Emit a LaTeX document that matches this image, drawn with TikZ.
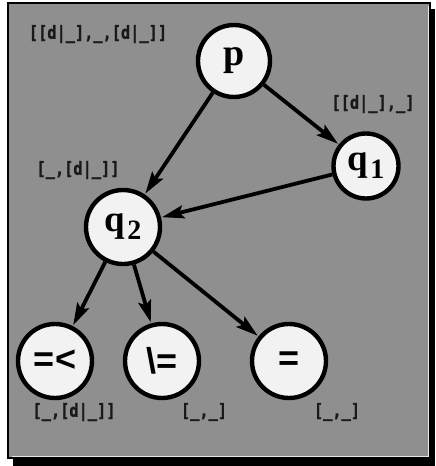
\documentclass[tikz,border=0pt]{standalone}
\usepackage{fontspec}
\setmainfont{Liberation Serif}
\newfontfamily\labelfont{DejaVu Sans Mono}[FakeStretch=0.85,FakeBold=1.2]
\newfontfamily\opfont{Liberation Sans}
\usetikzlibrary{arrows.meta}
\definecolor{panel}{gray}{0.56}
\definecolor{disc}{gray}{0.95}
\newcommand{\statename}[2]{\textbf{\fontsize{37}{37}\selectfont #1\hspace{2pt}\raisebox{-8pt}{\fontsize{28}{28}\selectfont #2}}}
\begin{document}
\begin{tikzpicture}[x=1pt,y=-1pt,
  state/.style={circle, draw=black, line width=4.4pt, fill=disc, minimum size=74pt, inner sep=0pt},
  opname/.style={font=\opfont\bfseries\fontsize{36}{36}\selectfont},
  lbl/.style={font=\labelfont\bfseries\fontsize{18}{18}\selectfont, text=black!90, inner sep=0pt},
  edge/.style={line width=3.8pt, -{Stealth[length=22pt,width=13pt,inset=4pt]}, shorten >=1pt}]
\useasboundingbox (0,0) rectangle (436,466);
% framed panel with drop shadow
\fill[black] (13,9) rectangle (435,466);
\fill[panel] (8,3) rectangle (430,458);
\draw[black, line width=2pt] (8,3) rectangle (430,458);
\draw[white!80!panel, line width=1pt] (428,6) -- (428,456) -- (12,456);

% states
\node[state, minimum size=72pt] (p) at (234,61) {\textbf{\fontsize{38}{38}\selectfont p}};
\node[state, minimum size=65pt] (q1) at (366,166) {\statename{q}{1}};
\node[state] (q2) at (123,227) {\statename{q}{2}};
\node[state] (le) at (55,361) [opname] {=<};
\node[state] (ne) at (162,361) [opname] {\textbackslash=};
\node[state] (eq) at (289,361) [opname] {=};

% transitions
\draw[edge] (p) -- (q1);
\draw[edge] (p) -- (q2);
\draw[edge] (q1) -- (q2);
\draw[edge] (q2) -- (le);
\draw[edge] (q2) -- (ne);
\draw[edge] (q2) -- (eq);

% argument patterns
\node[lbl] (lp) at (98,34) {[[d|\_],\_,[d|\_]]};
\node[lbl] (lq1) at (373,104) {[[d|\_],\_]};
\node[lbl] (lq2) at (78,170) {[\_,[d|\_]]};
\node[lbl] (lle) at (74,412) {[\_,[d|\_]]};
\node[lbl] (lne) at (204,412) {[\_,\_]};
\node[lbl] (leq) at (337,412) {[\_,\_]};
\end{tikzpicture}
\end{document}
